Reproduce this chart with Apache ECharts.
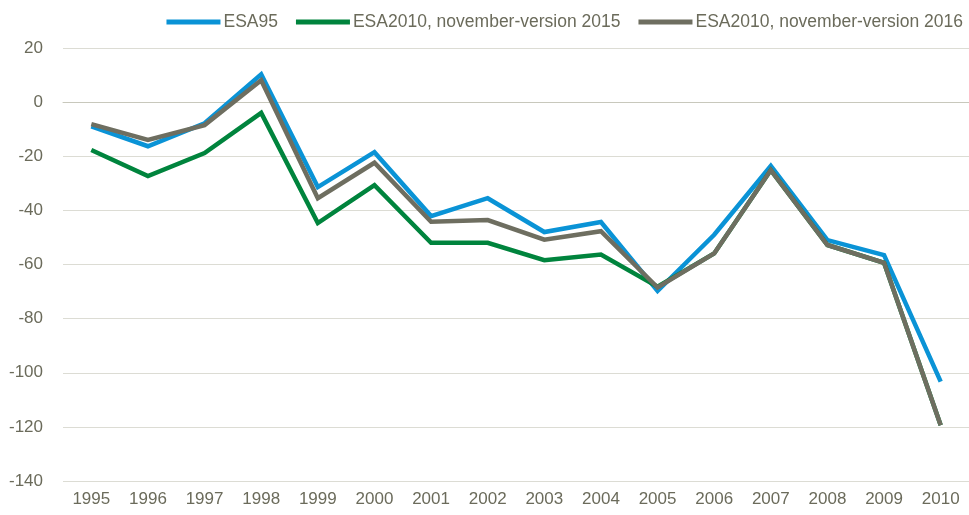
<!DOCTYPE html>
<html><head><meta charset="utf-8">
<script src="https://cdn.jsdelivr.net/npm/echarts@6/dist/echarts.min.js"></script>
<style>html,body{margin:0;padding:0;background:#fff}#c{width:969px;height:515px}</style>
</head><body><div id="c"></div>
<script>
const categories = ['1995','1996','1997','1998','1999','2000','2001','2002','2003','2004','2005','2006','2007','2008','2009','2010'];
const esa95 = [-9, -16.3, -7.8, 10.3, -31.4, -18.5, -42.1, -35.5, -48, -44.3, -69.8, -49, -23.6, -51, -56.5, -103.3];
const esa2010v2015 = [-17.7, -27.3, -18.8, -4, -44.7, -30.7, -52, -52, -58.4, -56.3, -68.2, -55.9, -25.1, -52.8, -59.4, -119.4];
const esa2010v2016 = [-8.1, -14, -8.5, 8.1, -35.5, -22.4, -44.2, -43.6, -50.8, -47.7, -68.5, -55.9, -25.1, -52.8, -59.4, -119.4];
const seriesNames = ['ESA95', 'ESA2010, november-version 2015', 'ESA2010, november-version 2016'];
const colors = ['#0a93d6', '#00843d', '#6e6e60'];
const textColor = '#6b6b5b';
const font = "'Liberation Sans Narrow', 'Arial Narrow', 'Liberation Sans', sans-serif";

const chart = echarts.init(document.getElementById('c'), null, {renderer: 'canvas'});
const data = [esa95, esa2010v2015, esa2010v2016];
chart.setOption({
  animation: false,
  color: colors,
  textStyle: {fontFamily: font},
  legend: {
    top: 8, right: 1,
    itemWidth: 54, itemHeight: 5, itemGap: 18,
    icon: 'rect',
    textStyle: {color: textColor, fontSize: 17.5, fontFamily: font, padding: [0,0,0,-2]},
    data: seriesNames
  },
  grid: {left: 63, right: 0, top: 48, bottom: 34, containLabel: false},
  xAxis: {
    type: 'category', data: categories, boundaryGap: true,
    axisLine: {lineStyle: {color: '#c8c8bc', width: 1}},
    axisTick: {show: false},
    axisLabel: {color: textColor, fontSize: 17, fontFamily: font, margin: 10}
  },
  yAxis: {
    type: 'value', min: -140, max: 20, interval: 20,
    axisLine: {show: false}, axisTick: {show: false},
    axisLabel: {color: textColor, fontSize: 17, fontFamily: font, margin: 20},
    splitLine: {lineStyle: {color: '#dcdcd4', width: 1}}
  },
  series: seriesNames.map((n, i) => ({
    name: n, type: 'line', data: data[i], showSymbol: false, symbol: 'none',
    lineStyle: {width: 4.5, color: colors[i], join: 'miter'}, z: i + 2
  }))
});
</script></body></html>
